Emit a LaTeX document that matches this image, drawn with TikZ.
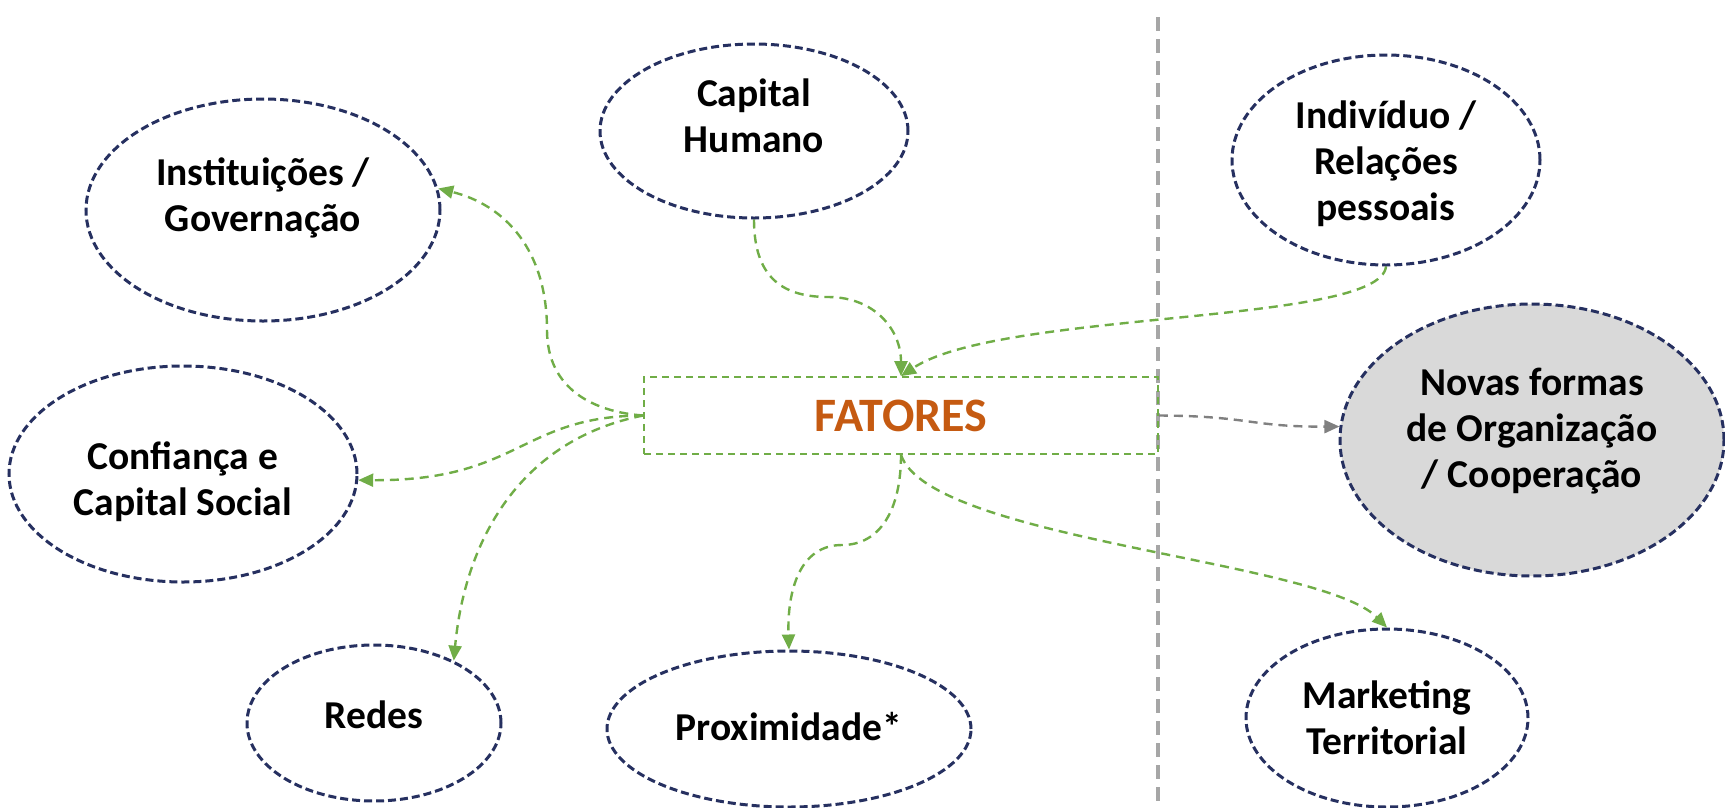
\documentclass[tikz,border=0pt]{standalone}
\usepackage{fontspec}
\setmainfont{Carlito}
\usetikzlibrary{shapes.geometric,arrows.meta}
\definecolor{navy}{RGB}{38,48,96}
\definecolor{lgreen}{RGB}{112,173,71}
\definecolor{orng}{RGB}{197,90,17}
\definecolor{lgray}{RGB}{166,166,166}
\definecolor{mgray}{RGB}{128,128,128}
\definecolor{fillgray}{RGB}{217,217,217}
\tikzset{
  oval/.style={ellipse, draw=navy, line width=3pt, dash pattern=on 8pt off 4pt, inner sep=0pt},
  txt/.style={align=center, inner sep=0pt, font=\fontsize{39.5}{46}\selectfont\bfseries, text=black},
  garrow/.style={draw=lgreen, line width=2.4pt, dash pattern=on 9pt off 6pt, -{Triangle[length=15pt,width=13pt]}},
  grarrow/.style={draw=mgray, line width=2.4pt, dash pattern=on 9pt off 6pt, -{Triangle[length=15pt,width=13pt]}},
}
\begin{document}
\begin{tikzpicture}[x=1pt,y=-1pt]
\useasboundingbox (0,0) rectangle (1725,807);
% divider
\draw[lgray, line width=4pt, dash pattern=on 14pt off 8pt] (1158,17) coordinate (dtop) -- (1158,807) coordinate (dbot);
% nodes
\node[oval, minimum width=308pt, minimum height=174pt] (cap) at (754,131) {};
\node[oval, minimum width=354pt, minimum height=222pt] (inst) at (263,210) {};
\node[oval, minimum width=348pt, minimum height=216pt] (conf) at (183,474) {};
\node[oval, minimum width=254pt, minimum height=156pt] (redes) at (374,723) {};
\node[oval, minimum width=364pt, minimum height=156pt] (prox) at (789,729) {};
\node[oval, minimum width=308pt, minimum height=210pt] (indiv) at (1386,160) {};
\node[oval, fill=fillgray, minimum width=384pt, minimum height=272pt] (novas) at (1532,440) {};
\node[oval, minimum width=282pt, minimum height=178pt] (mkt) at (1387,718) {};
% texts
\node[txt] (capt) at ([yshift=15pt]cap.center) {Capital\\Humano};
\node[txt] (instt) at ([yshift=12pt]inst.center) {Instituições /\\Governação};
\node[txt] (conft) at ([yshift=-8pt]conf.center) {Confiança e\\Capital Social};
\node[txt] (redest) at ([yshift=8pt]redes.center) {Redes};
\node[txt] (proxt) at ([yshift=2pt]prox.center) {Proximidade*};
\node[txt] (indivt) at ([yshift=-4pt]indiv.center) {Indivíduo /\\Relações\\pessoais};
\node[txt] (novast) at ([yshift=9pt]novas.center) {Novas formas\\de Organização\\/ Cooperação};
\node[txt] (mktt) at (mkt.center) {Marketing\\Territorial};
\node[draw=lgreen, line width=1.8pt, dash pattern=on 7pt off 5pt, rectangle, minimum width=514pt, minimum height=77pt,
  inner sep=0pt, text=orng, font=\fontsize{48}{56}\selectfont\bfseries] (fat) at (901,415.5) {FATORES};
% connectors
\draw[garrow] (cap.south) .. controls (754,275) and (780,297) .. (828,297) .. controls (875,297) and (901,330) .. (fat.north);
\draw[garrow] (indiv.south) .. controls (1380,325) and (1000,310) .. (fat.north);
\draw[garrow] (fat.west) .. controls (595,412) and (547,390) .. (547,330) .. controls (547,250) and (505,205) .. (inst.7);
\draw[garrow] (fat.west) .. controls (520,416) and (520,481) .. (conf.-2);
\draw[garrow] (fat.west) .. controls (520,440) and (465,540) .. (redes.38);
\draw[garrow] (fat.south) .. controls (901,510) and (880,545) .. (842,545) .. controls (800,545) and (787,590) .. (prox.north);
\draw[garrow] (fat.south) .. controls (930,540) and (1320,560) .. (mkt.north);
\draw[grarrow] (fat.east) .. controls (1250,416) and (1250,427) .. (novas.176);
\end{tikzpicture}
\end{document}
